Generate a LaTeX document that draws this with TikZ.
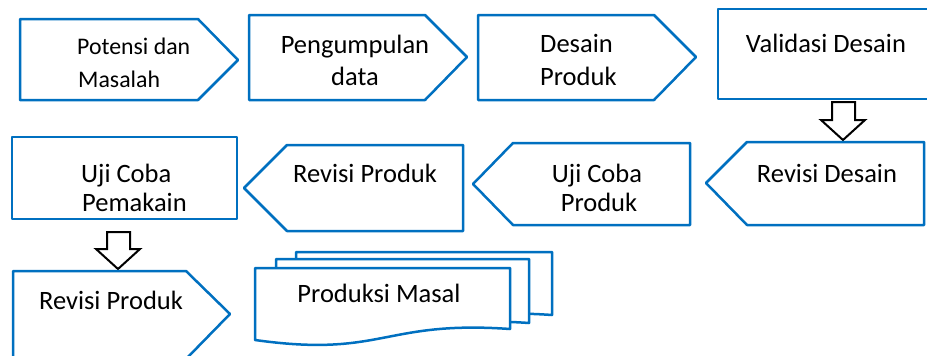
\documentclass[tikz,border=0pt]{standalone}
\usepackage{fontspec}
\setmainfont{Carlito}
\definecolor{boxblue}{RGB}{0,112,192}
\tikzset{
  x=1pt, y=-1pt,
  bluebox/.style={draw=boxblue, line width=2.5pt, line join=round, fill=white},
  blockarrow/.style={draw=black, line width=2pt, line join=miter, fill=white},
  lbl/.style={font=\fontsize{26.5}{30}\selectfont, inner sep=0pt, anchor=base},
  lblsmall/.style={font=\fontsize{23.8}{28}\selectfont, inner sep=0pt, anchor=base west},
}
\begin{document}
\begin{tikzpicture}
\useasboundingbox (0,0) rectangle (927,356);
% ---- row 1 ----
\draw[bluebox] (20,19) -- (198,19) -- (238,60) -- (198,100) -- (20,100) -- cycle;
\draw[bluebox] (249,15) -- (425,15) -- (467,57) -- (425,100) -- (249,100) -- cycle;
\draw[bluebox] (478,15) -- (654,15) -- (696,57) -- (654,100) -- (478,100) -- cycle;
\draw[bluebox] (718,9) rectangle (932,99);
\node[lblsmall] (t1a) at (77,54) {Potensi dan};
\node[lblsmall] (t1b) at (78,87) {Masalah};
\node[lbl] (t2a) at (355,53) {Pengumpulan};
\node[lbl] (t2b) at (355,85) {data};
\node[lbl, anchor=base west] (t3a) at (540,52) {Desain};
\node[lbl, anchor=base west] (t3b) at (540,85) {Produk};
\node[lbl] (t4) at (826,52) {Validasi Desain};
% ---- block arrow 1 ----
\draw[blockarrow] (832,102) -- (855,102) -- (855,120) -- (865,120) -- (843,140) -- (821,120) -- (832,120) -- cycle;
% ---- row 2 ----
\draw[bluebox] (12,137) rectangle (237,219);
\draw[bluebox] (244,188) -- (287,145) -- (463,145) -- (463,231) -- (287,231) -- cycle;
\draw[bluebox] (473,184) -- (513,143) -- (690,143) -- (690,225) -- (513,225) -- cycle;
\draw[bluebox] (706,183) -- (747,142) -- (924,142) -- (924,225) -- (747,225) -- cycle;
\node[lbl, anchor=base west] (t5a) at (81,182) {Uji Coba};
\node[lbl, anchor=base west] (t5b) at (82,211) {Pemakain};
\node[lbl] (t6) at (365,182) {Revisi Produk};
\node[lbl] (t7a) at (597,182) {Uji Coba};
\node[lbl] (t7b) at (599,211) {Produk};
\node[lbl] (t8) at (827,182) {Revisi Desain};
% ---- block arrow 2 ----
\draw[blockarrow] (107,232) -- (130,232) -- (130,249) -- (140,249) -- (118,269) -- (96,249) -- (107,249) -- cycle;
% ---- row 3 ----
\draw[bluebox] (13,271) -- (186,271) -- (230,314) -- (187,358) -- (13,358) -- cycle;
\node[lbl] (t9) at (111,309) {Revisi Produk};
% multi-document
\draw[bluebox] (296,252) -- (552,252) -- (552,315) .. controls (425,306) and (425,344) .. (296,326) -- cycle;
\draw[bluebox] (276,259) -- (529,259) -- (529,323) .. controls (402,314) and (402,352) .. (276,334) -- cycle;
\draw[bluebox] (255,268) -- (510,268) -- (510,329) .. controls (383,320) and (383,358) .. (255,340) -- cycle;
\node[lbl] (t10) at (379,302) {Produksi Masal};
\end{tikzpicture}
\end{document}
